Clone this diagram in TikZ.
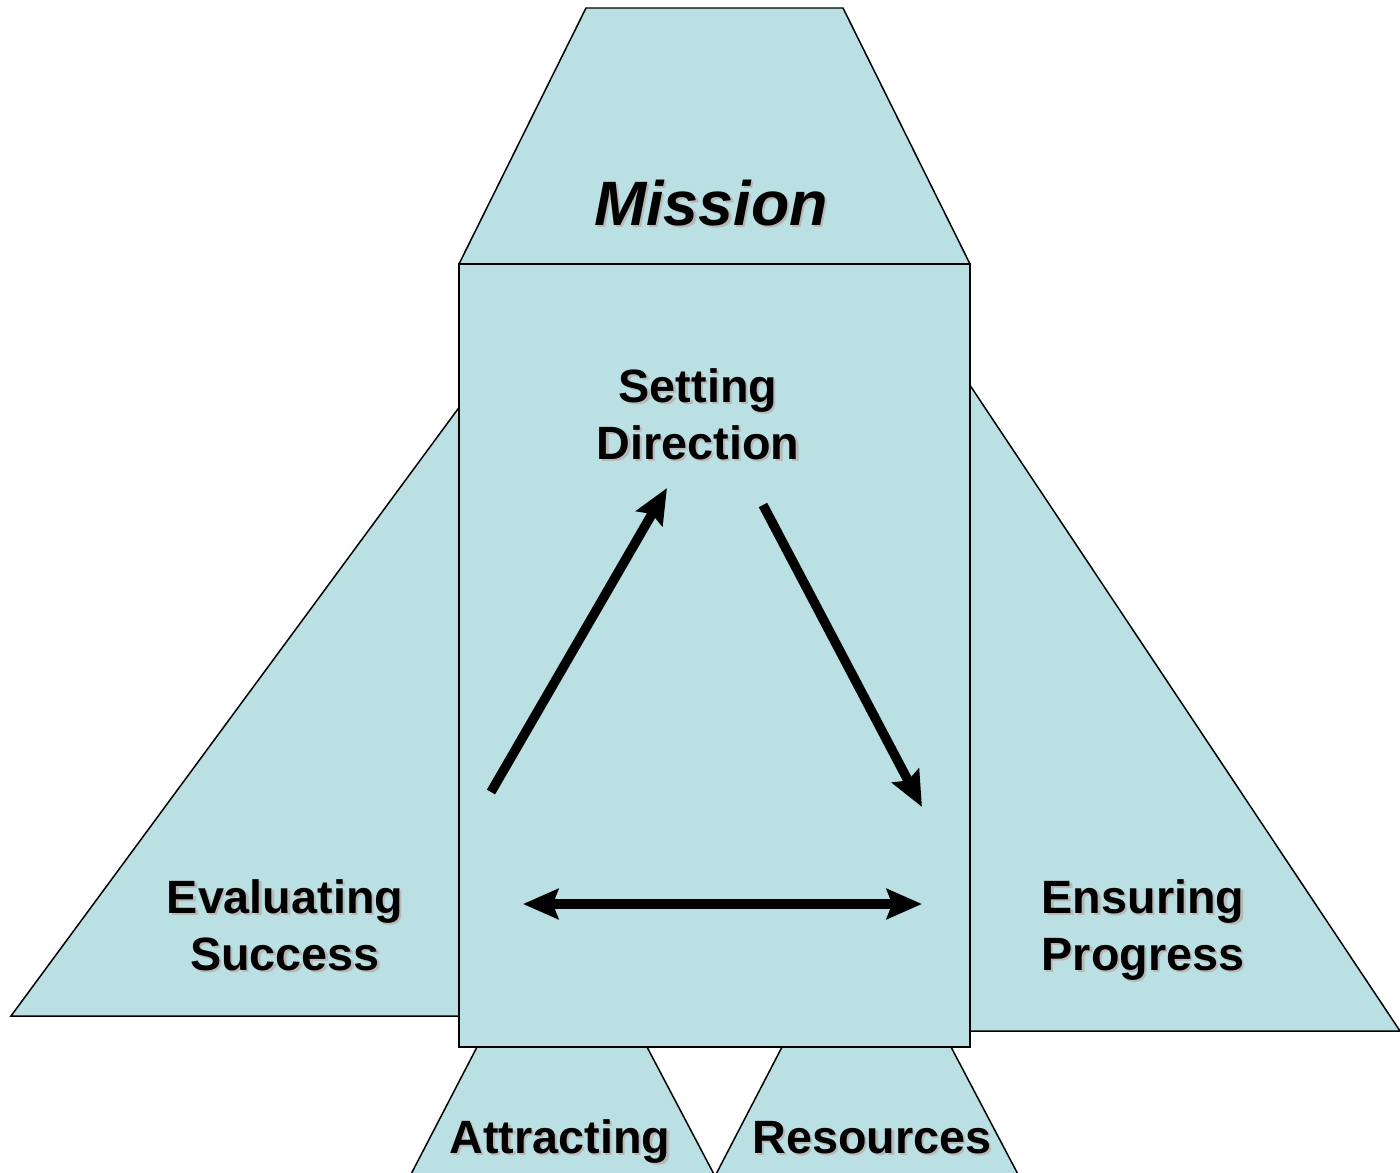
\documentclass[tikz,border=0pt]{standalone}
\usepackage{fontspec}
\setmainfont{Liberation Sans}
\usetikzlibrary{arrows.meta,positioning}
\definecolor{panelblue}{RGB}{186,224,227}
\tikzset{
    panel/.style={fill=panelblue,draw=black,line width=0.85pt,line join=miter},
    word/.style={font=\fontsize{26.6}{32.3}\selectfont\bfseries,align=center,inner sep=0pt,anchor=base},
    flow/.style={line width=5.4pt,-{Stealth[length=20pt,width=17pt,inset=3pt]}},
    twoway/.style={line width=5.4pt,{Stealth[length=20pt,width=17pt,inset=3pt]}-{Stealth[length=20pt,width=17pt,inset=3pt]}}
}
% text with a soft grey drop shadow: name, position, extra style, text
\newcommand{\shadowword}[4]{%
    \node[word,#3,text=black!28,xshift=1.3pt,yshift=-1.3pt] (#1s) at #2 {#4};
    \node[word,#3] (#1) at #2 {#4};
}
\begin{document}
\begin{tikzpicture}[x=0.02cm,y=-0.02cm]
    \useasboundingbox (0,0) rectangle (1400,1173);
    \clip (0,0) rectangle (1400,1173);

    % side wings and bottom feet
    \draw[panel] (11,1016) -- (600,216) -- (600,1016) -- cycle;
    \draw[panel] (1400,1031) -- (810,145) -- (810,1031) -- cycle;
    \draw[panel] (477,1047) -- (647,1047) -- (717,1180) -- (408,1180) -- cycle;
    \draw[panel] (782,1047) -- (951,1047) -- (1021,1180) -- (713,1180) -- cycle;

    % roof and body
    \draw[panel] (586,8) -- (843,8) -- (970,264) -- (459,264) -- cycle;
    \draw[panel] (459,264) rectangle (970,1047);

    % labels (base = baseline of the last line)
    \shadowword{mission}{(711,225)}{font=\fontsize{35.7}{40}\selectfont\bfseries\itshape}{Mission}
    \shadowword{setting}{(698,459)}{}{Setting\\Direction}
    \shadowword{evaluating}{(285,970)}{}{Evaluating\\Success}
    \shadowword{ensuring}{(1143,970)}{}{Ensuring\\Progress}
    \shadowword{attracting}{(560,1153)}{}{Attracting}
    \shadowword{resources}{(872,1153)}{}{Resources}

    % cycle arrows
    \coordinate (upstart) at (491,792);
    \coordinate (uptip) at (667,488);
    \coordinate (downstart) at (763,505);
    \coordinate (downtip) at (922,807);
    \coordinate (backleft) at (523,904);
    \coordinate (backright) at (922,904);
    \draw[flow] (upstart) -- (uptip);
    \draw[flow] (downstart) -- (downtip);
    \draw[twoway] (backleft) -- (backright);
\end{tikzpicture}
\end{document}
